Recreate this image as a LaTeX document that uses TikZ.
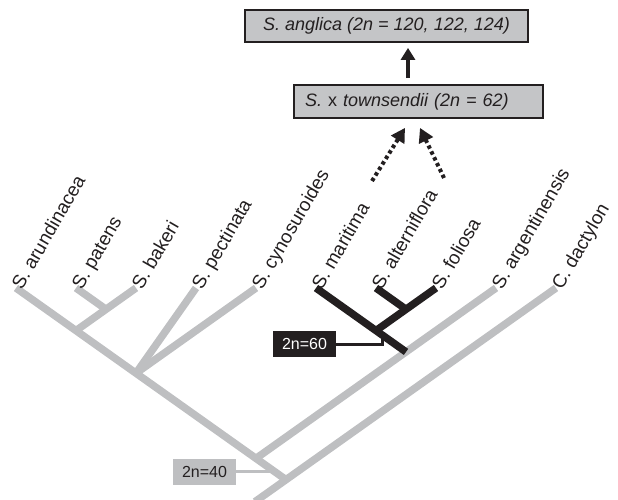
\documentclass[tikz,border=0pt]{standalone}
\usepackage{fontspec}
\setmainfont{Liberation Sans}
\usetikzlibrary{arrows.meta}
\definecolor{tgrey}{RGB}{190,191,193}
\definecolor{tblack}{RGB}{35,31,32}
\definecolor{boxgrey}{RGB}{196,197,199}
\begin{document}
\begin{tikzpicture}[x=1pt,y=-1pt,
  greybranch/.style={line width=7.5pt, draw=tgrey},
  blackbranch/.style={line width=7.5pt, draw=tblack},
  taxon/.style={rotate=60, anchor=base west, inner sep=0pt, text=tblack, font=\fontsize{19}{21}\selectfont},
  hybridbox/.style={draw=tblack, line width=1.8pt, fill=boxgrey, text=tblack, inner sep=0pt, font=\fontsize{18}{20}\selectfont},
  ploidybox/.style={minimum width=63pt, minimum height=26pt, inner sep=0pt, font=\fontsize{16}{18}\selectfont},
  solidarrow/.style={draw=tblack, line width=4.5pt, -{Triangle[width=14pt,length=12pt]}},
  dotarrow/.style={draw=tblack, line width=4pt, dash pattern=on 3.5pt off 3pt, -{Triangle[width=15pt,length=14pt]}},
  ploidyline/.style={line width=3pt}
]
\useasboundingbox (0,0) rectangle (618,500);

% hybrid boxes
\node[hybridbox, minimum width=283pt, minimum height=32pt] (angl) at (386.5,26) {\itshape S. anglica (2n = 120, 122, 124)};
\node[hybridbox, minimum height=33pt, text width=227pt, inner xsep=11pt, align=left] (town) at (418.5,101.5) {\textit{S.} x \textit{townsendii (2n = 62)}};

\coordinate (ax) at (408,0);
\draw[solidarrow, shorten <=6pt, shorten >=5pt] (town.north -| ax) -- (angl.south -| ax);

\coordinate (mfrom) at (372,181);
\coordinate (afrom) at (444,178);
\coordinate (mto) at ([xshift=-13.5pt,yshift=-9pt]town.south);
\coordinate (ato) at ([xshift=1.5pt,yshift=-9pt]town.south);
\draw[dotarrow] (mfrom) -- (mto);
\draw[dotarrow] (afrom) -- (ato);

% tips
\coordinate (t1) at (16,288);
\coordinate (t2) at (76,288);
\coordinate (t3) at (136,288);
\coordinate (t4) at (196,288);
\coordinate (t5) at (256,288);
\coordinate (t6) at (316,288);
\coordinate (t7) at (376,288);
\coordinate (t8) at (436,288);
\coordinate (t9) at (496,288);
\coordinate (t10) at (556,288);
% internal nodes
\coordinate (npb) at (106,309.3);
\coordinate (napb) at (76,330.6);
\coordinate (nac) at (136,373.2);
\coordinate (naf) at (406,309.3);
\coordinate (nmaf) at (376,330.6);
\coordinate (nmarg) at (406,351.9);
\coordinate (nall) at (256,458.4);
\coordinate (root) at (286,479.7);
\coordinate (stub) at (255,501.7);

% ploidy labels and connectors
\node[ploidybox, fill=tgrey, text=tblack] (b40) at (204.5,471.5) {2n=40};
\coordinate (c40) at (274.5,471.5);
\draw[ploidyline, tgrey] (b40.east) -- (c40);

\node[ploidybox, fill=tblack, text=white] (b60) at (304.5,344) {2n=60};
\coordinate (c60) at (382,334.9);
\draw[ploidyline, tblack] (b60.east) -| (c60);

% grey branches
\draw[greybranch] (t1) -- (root);
\draw[greybranch] (t2) -- (npb);
\draw[greybranch] (t3) -- (napb);
\draw[greybranch] (t4) -- (nac);
\draw[greybranch] (t5) -- (nac);
\draw[greybranch] (t9) -- (nall);
\draw[greybranch] (t10) -- (stub);

% black branches
\draw[blackbranch] (t6) -- (nmarg);
\draw[blackbranch] (t7) -- (naf);
\draw[blackbranch] (t8) -- (nmaf);

% taxon labels
\node[taxon] (l1) at ([xshift=6pt,yshift=-3pt]t1) {S. arundinacea};
\node[taxon] (l2) at ([xshift=6pt,yshift=-3pt]t2) {S. patens};
\node[taxon] (l3) at ([xshift=6pt,yshift=-3pt]t3) {S. bakeri};
\node[taxon] (l4) at ([xshift=6pt,yshift=-3pt]t4) {S. pectinata};
\node[taxon] (l5) at ([xshift=6pt,yshift=-3pt]t5) {S. cynosuroides};
\node[taxon] (l6) at ([xshift=6pt,yshift=-3pt]t6) {S. maritima};
\node[taxon] (l7) at ([xshift=6pt,yshift=-3pt]t7) {S. alterniflora};
\node[taxon] (l8) at ([xshift=6pt,yshift=-3pt]t8) {S. foliosa};
\node[taxon] (l9) at ([xshift=6pt,yshift=-3pt]t9) {S. argentinensis};
\node[taxon] (l10) at ([xshift=6pt,yshift=-3pt]t10) {C. dactylon};
\end{tikzpicture}
\end{document}
